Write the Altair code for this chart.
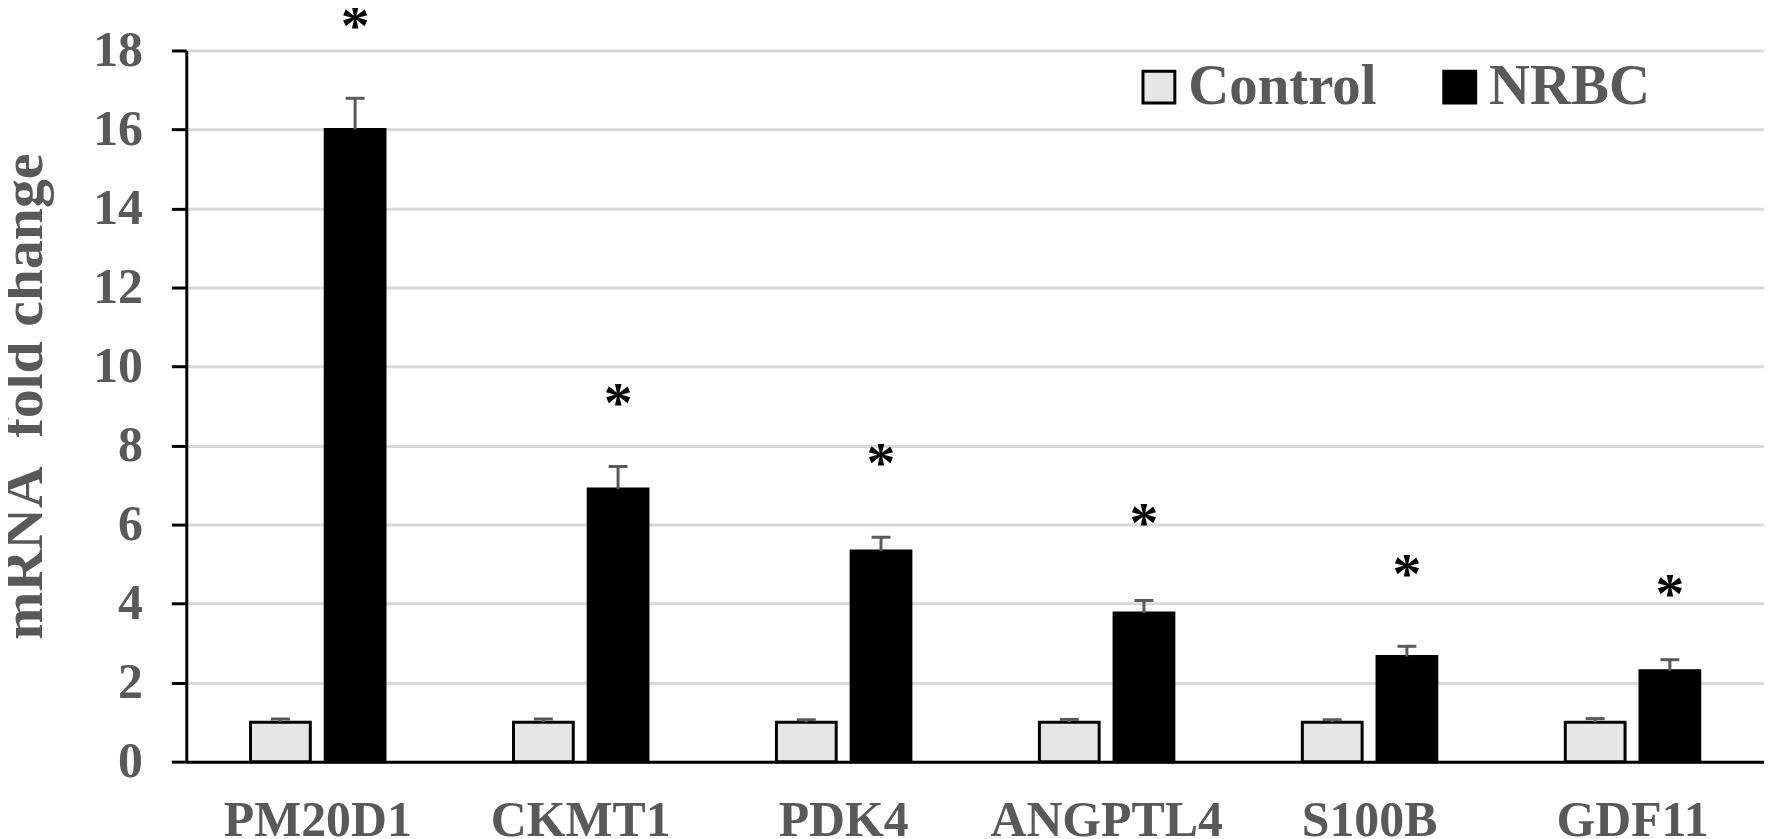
import altair as alt
import pandas as pd

genes = ["PM20D1", "CKMT1", "PDK4", "ANGPTL4", "S100B", "GDF11"]
groups = ["Control", "NRBC"]
control_vals = [1.0, 1.0, 1.0, 1.0, 1.0, 1.0]
control_err = [0.08, 0.08, 0.06, 0.07, 0.06, 0.09]
nrbc_vals = [16.0, 6.9, 5.33, 3.76, 2.66, 2.30]
nrbc_err = [0.79, 0.57, 0.35, 0.32, 0.26, 0.28]
star_pos = [18.83, 9.29, 7.77, 6.24, 4.95, 4.44]
y_ticks = [0, 2, 4, 6, 8, 10, 12, 14, 16, 18]

rows = []
for i, g in enumerate(genes):
    rows.append({"gene": g, "group": "Control", "value": control_vals[i],
                 "upper": control_vals[i] + control_err[i]})
    rows.append({"gene": g, "group": "NRBC", "value": nrbc_vals[i],
                 "upper": nrbc_vals[i] + nrbc_err[i]})
df = pd.DataFrame(rows)
stars = pd.DataFrame({"gene": genes, "group": ["NRBC"] * len(genes),
                      "pos": star_pos, "label": ["*"] * len(genes)})

FONT = "Liberation Serif"
GREY = "#595959"

x_enc = alt.X("gene:N", sort=genes,
              scale=alt.Scale(paddingInner=0, paddingOuter=0),
              axis=alt.Axis(title=None, labelFont=FONT, labelFontSize=50,
                            labelFontWeight="bold", labelColor=GREY, labelAngle=0,
                            ticks=False, tickSize=0, labelPadding=74,
                            labelBaseline="alphabetic", labelLimit=0,
                            domainColor="black", domainWidth=3, grid=False))
xo_enc = alt.XOffset("group:N", sort=groups,
                     scale=alt.Scale(paddingInner=0.2, paddingOuter=0.86))
y_scale = alt.Scale(domain=[0, 18], nice=False)

bars = alt.Chart(df).mark_bar(strokeWidth=3, stroke="black").encode(
    x=x_enc,
    xOffset=xo_enc,
    y=alt.Y("value:Q", scale=y_scale,
            axis=alt.Axis(title="mRNA\u00a0 fold change", values=y_ticks,
                          labelFont=FONT, labelFontSize=50, labelFontWeight="bold",
                          labelColor=GREY, labelPadding=29, tickSize=15,
                          tickWidth=3, tickColor="black", domainColor="black",
                          domainWidth=3, gridColor="#d9d9d9", gridWidth=3,
                          titleFont=FONT, titleFontSize=58, titleFontWeight="bold",
                          titleColor=GREY, titleAngle=-90, titleX=-145, titleY=347,
                          titleAlign="center", titleBaseline="alphabetic")),
    fill=alt.Fill("group:N", sort=groups,
                  scale=alt.Scale(domain=groups, range=["#e6e6e6", "#000000"]),
                  legend=alt.Legend(title=None, orient="none", direction="horizontal",
                                    legendX=948, legendY=8, symbolType="square",
                                    symbolSize=1024, symbolStrokeColor="black",
                                    symbolStrokeWidth=3, labelFont=FONT,
                                    labelFontSize=57, labelFontWeight="bold",
                                    labelColor=GREY, labelOffset=1,
                                    columnPadding=55, padding=0, labelLimit=0)),
)

err_rule = alt.Chart(df).mark_rule(color=GREY, strokeWidth=3).encode(
    x=alt.X("gene:N", sort=genes), xOffset=alt.XOffset("group:N", sort=groups),
    y=alt.Y("value:Q"), y2="upper:Q")

err_cap = alt.Chart(df).mark_tick(color=GREY, thickness=3, size=19, opacity=1).encode(
    x=alt.X("gene:N", sort=genes), xOffset=alt.XOffset("group:N", sort=groups),
    y=alt.Y("upper:Q"))

star_text = alt.Chart(stars).mark_text(font=FONT, fontSize=58, fontWeight="bold",
                                       color="black", baseline="alphabetic",
                                       dy=27).encode(
    x=alt.X("gene:N", sort=genes), xOffset=alt.XOffset("group:N", sort=groups),
    y=alt.Y("pos:Q"), text="label:N")

chart = alt.layer(bars, err_rule, err_cap, star_text).properties(
    width=1584, height=714,
    autosize=alt.AutoSizeParams(type="none"),
    padding={"left": 179, "top": 41, "right": 0, "bottom": 76},
    background="white",
).configure_view(stroke=None)

chart.save("out.html", embed_options={"renderer": "svg", "actions": False})
